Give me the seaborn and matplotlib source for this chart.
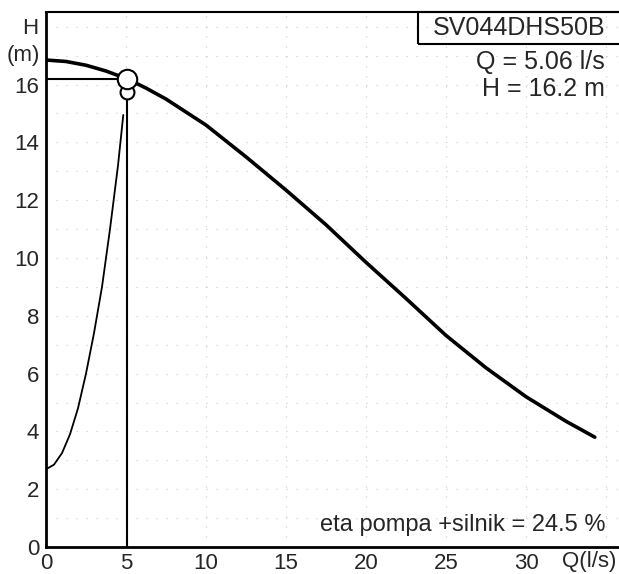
import matplotlib
matplotlib.use("Agg")
import matplotlib.pyplot as plt
import seaborn as sns
import pandas as pd

# ---- data ----
pump_q = [0, 1.25, 2.5, 3.75, 5.06, 6.25, 7.5, 10, 12.5, 15, 17.5, 20, 22.5, 25, 27.5,
          30, 32.5, 34.3]
pump_h = [16.85, 16.8, 16.67, 16.47, 16.2, 15.88, 15.5, 14.6, 13.5, 12.35, 11.15, 9.85,
          8.6, 7.32, 6.2, 5.2, 4.35, 3.8]

sys_q = [0, 0.5, 1.0, 1.5, 2.0, 2.5, 3.0, 3.5, 4.0, 4.5, 4.83]
sys_h = [2.69, 2.85, 3.25, 3.9, 4.8, 6.0, 7.4, 9.0, 11.0, 13.2, 14.95]

op_q = 5.06
op_h = 16.2
sys_point_h = 15.75

x_ticks = [0, 5, 10, 15, 20, 25, 30]
y_ticks = [0, 2, 4, 6, 8, 10, 12, 14, 16]

title_text = "SV044DHS50B"
q_text = "Q = 5.06 l/s"
h_text = "H = 16.2 m"
eta_text = "eta pompa +silnik = 24.5 %"

sns.set_theme(style="white")
plt.rcParams['font.family'] = ['Liberation Sans', 'DejaVu Sans']

fig = plt.figure(figsize=(6.19, 5.74), dpi=100)
ax = fig.add_axes([46 / 619, 27 / 574, 1 - 46 / 619, (547 - 12) / 574])

# grid (faint dotted)
for yv in range(1, 19):
    ax.axhline(yv, color="#c8c8c8", lw=0.8, ls=(0, (1, 8)), zorder=0)
for xv in range(5, 36, 5):
    ax.axvline(xv, color="#c8c8c8", lw=0.8, ls=(0, (1, 8)), zorder=0)

pump_df = pd.DataFrame({"Q": pump_q, "H": pump_h})
sys_df = pd.DataFrame({"Q": sys_q, "H": sys_h})

sns.lineplot(data=pump_df, x="Q", y="H", sort=False, color="black", lw=2.6, ax=ax, zorder=3)
sns.lineplot(data=sys_df, x="Q", y="H", sort=False, color="black", lw=1.3, ax=ax, zorder=3)

# operating point lines
ax.plot([0, op_q], [op_h, op_h], color="black", lw=1.5, zorder=3)
ax.plot([op_q, op_q], [0, sys_point_h], color="black", lw=1.5, zorder=3)

# circles
ax.plot([op_q], [sys_point_h], marker="o", ms=10, mfc="white", mec="black", mew=1.5, zorder=4)
ax.plot([op_q], [op_h], marker="o", ms=14, mfc="white", mec="black", mew=1.5, zorder=5)

ax.set_xlim(0, (619 - 46) / 16)
ax.set_ylim(0, (547 - 12) / 28.9)
ax.set_xticks(x_ticks)
ax.set_yticks(y_ticks)
ax.set_xticklabels([str(v) for v in x_ticks], fontsize=16)
ax.set_yticklabels([str(v) for v in y_ticks], fontsize=16)
ax.tick_params(axis="x", length=0, pad=4)
ax.tick_params(axis="y", length=0, pad=5)
ax.set_xlabel("")
ax.set_ylabel("")

for s in ["left", "bottom"]:
    ax.spines[s].set_color("black")
    ax.spines[s].set_linewidth(2)
ax.spines["top"].set_color("black")
ax.spines["top"].set_linewidth(1.5)
ax.spines["right"].set_visible(False)

# axis titles
fig.text(38 / 619, 1 - 28 / 574, "H", fontsize=16, ha="right", va="center")
fig.text(40 / 619, 1 - 55 / 574, "(m)", fontsize=16, ha="right", va="center")
fig.text(616 / 619, 1 - 562 / 574, "Q(l/s)", fontsize=16, ha="right", va="center")

# annotation box
fig.text(519 / 619, 1 - 28 / 574, title_text, fontsize=18, ha="center", va="center")
fig.patches.append(plt.Rectangle((418 / 619, 1 - 44 / 574), 1, 32 / 574, transform=fig.transFigure,
                                 fill=False, edgecolor="black", lw=1.5))
fig.text(605 / 619, 1 - 62 / 574, q_text, fontsize=18, ha="right", va="center")
fig.text(605 / 619, 1 - 89 / 574, h_text, fontsize=18, ha="right", va="center")
fig.text(605 / 619, 1 - 525 / 574, eta_text, fontsize=17, ha="right", va="center")

fig.savefig("out.png", dpi=100)
